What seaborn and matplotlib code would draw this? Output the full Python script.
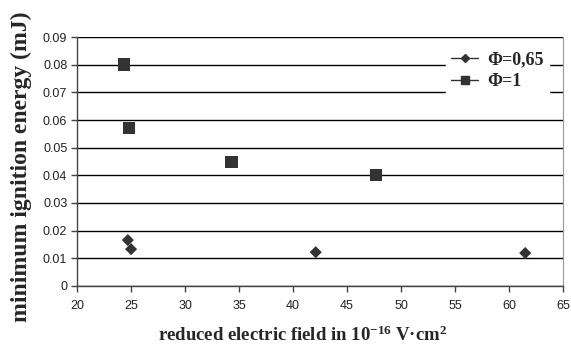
import pandas as pd
import matplotlib
matplotlib.use('Agg')
import matplotlib.pyplot as plt
import seaborn as sns
from matplotlib.lines import Line2D

# data
field_065 = [24.7, 25.0, 42.1, 61.5]
energy_065 = [0.0166, 0.0133, 0.0122, 0.0119]
field_1 = [24.3, 24.8, 34.3, 47.7]
energy_1 = [0.0801, 0.0571, 0.0449, 0.0401]
series_names = ['Φ=0,65', 'Φ=1']

df = pd.concat([
    pd.DataFrame({'field': field_065, 'energy': energy_065, 'phi': series_names[0]}),
    pd.DataFrame({'field': field_1, 'energy': energy_1, 'phi': series_names[1]}),
])

sns.set_style('white')
plt.rcParams['font.family'] = ['Liberation Sans', 'DejaVu Sans']
plt.rcParams['mathtext.default'] = 'regular'

fig = plt.figure(figsize=(5.71, 3.47), dpi=100)
ax = fig.add_axes([0.135, 0.176, 0.851, 0.717])

mark_col = '#333333'
sns.scatterplot(data=df[df['phi'] == series_names[0]], x='field', y='energy',
                marker='D', s=38, color=mark_col, edgecolor='none', ax=ax, legend=False, zorder=3)
sns.scatterplot(data=df[df['phi'] == series_names[1]], x='field', y='energy',
                marker='s', s=75, color=mark_col, edgecolor='none', ax=ax, legend=False, zorder=3)

ax.set_xlim(20, 65)
ax.set_ylim(0, 0.09)
ax.set_xticks(range(20, 66, 5))
ax.set_yticks([i / 100 for i in range(10)])
ax.set_yticklabels(['0'] + [f'{i/100:.2f}' for i in range(1, 10)])
ax.yaxis.grid(True, color='black', linewidth=1.0)
ax.set_axisbelow(True)
ax.tick_params(axis='both', direction='out', length=4, width=1, color='#444444',
               labelsize=9, labelcolor='#222222', left=True, bottom=True, pad=3)
ax.tick_params(axis='x', pad=6)

for side in ['left', 'bottom']:
    ax.spines[side].set_color('#444444')
    ax.spines[side].set_linewidth(1)
ax.spines['top'].set_visible(False)
ax.spines['right'].set_color('#999999')

serif = ['Liberation Serif', 'DejaVu Serif']
ax.set_ylabel('minimum ignition energy (mJ)', family=serif, weight='bold', size=17)
ax.yaxis.set_label_coords(-0.092, 0.48)
ax.set_xlabel('reduced electric field in 10$^{-16}$ V·cm$^{2}$', family=serif,
              weight='bold', size=13.5)
ax.xaxis.set_label_coords(0.465, -0.16)

handles = [
    Line2D([0], [0], color=mark_col, marker='D', markersize=4, lw=1),
    Line2D([0], [0], color=mark_col, marker='s', markersize=5.5, lw=1),
]
leg = ax.legend(handles, series_names, loc='upper right', bbox_to_anchor=(0.99, 1.0),
                frameon=True, framealpha=1, edgecolor='white', fancybox=False,
                handlelength=1.5, handletextpad=0.5, borderpad=0.3, labelspacing=0.25,
                prop=dict(family=serif, weight='bold', size=13))

fig.savefig('out.png', dpi=100)
